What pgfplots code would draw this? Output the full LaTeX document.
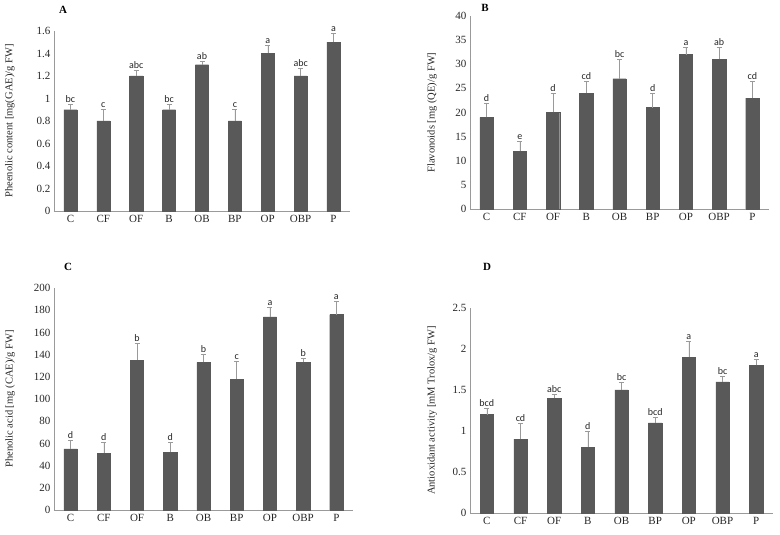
\documentclass[border=0pt]{standalone}
\usepackage{fontspec}
\setmainfont{Liberation Serif}
\newfontfamily\labfont{Carlito}
\usepackage{pgfplots}
\usepackage{pgfplotstable}
\pgfplotsset{compat=1.18}
\definecolor{barc}{HTML}{595959}
\definecolor{errc}{HTML}{9A9A9A}

\pgfplotstableread{
x y e lab
0 0.9 0.05 bc
1 0.8 0.10 c
2 1.2 0.05 abc
3 0.9 0.05 bc
4 1.3 0.03 ab
5 0.8 0.10 c
6 1.4 0.07 a
7 1.2 0.07 abc
8 1.5 0.08 a
}\tabA
\pgfplotstableread{
x y e lab
0 19 3 d
1 12 2 e
2 20 4 d
3 24 2.5 cd
4 27 4 bc
5 21 3 d
6 32 1.5 a
7 31 2.5 ab
8 23 3.5 cd
}\tabB
\pgfplotstableread{
x y e lab
0 55 8 d
1 51 10 d
2 135 15 b
3 52 9 d
4 133 7 b
5 118 16 c
6 174 9 a
7 133 4 b
8 176 12 a
}\tabC
\pgfplotstableread{
x y e lab
0 1.2 0.08 bcd
1 0.9 0.20 cd
2 1.4 0.05 abc
3 0.8 0.20 d
4 1.5 0.10 bc
5 1.1 0.07 bcd
6 1.9 0.20 a
7 1.6 0.07 bc
8 1.8 0.07 a
}\tabD

\pgfplotsset{panel/.style={
  scale only axis, axis lines=left, axis line style={errc, -},
  xmin=-0.5, xmax=8.5, ymin=0, clip=false,
  xtick={0,...,8}, xticklabels={C,CF,OF,B,OB,BP,OP,OBP,P},
  major tick length=0pt,
  /pgf/number format/assume math mode=true,
  tick label style={font=\fontsize{11}{13}\selectfont, text=black!85},
  ylabel style={anchor=center, font=\fontsize{10.5}{12}\selectfont, text=black!85},
  xticklabel style={yshift=-1pt},
}}
\newcommand{\drawpanel}[1]{%
  \addplot[ybar, bar width=0.4, fill=barc, draw=barc,
    error bars/.cd, y dir=plus, y explicit,
    error bar style={errc, line width=0.5pt},
    error mark options={rotate=90, mark size=2.5pt, errc, line width=0.5pt}]
    table[x=x, y=y, y error=e] {#1};
  \addplot[draw=none, mark=none, nodes near coords, point meta=explicit symbolic,
    nodes near coords style={anchor=south, inner sep=1.5pt, font=\labfont\fontsize{10}{11}\selectfont, text=black!85}]
    table[x=x, y expr=\thisrow{y}+\thisrow{e}, meta=lab] {#1};
}

\begin{document}
\begin{tikzpicture}
\path[use as bounding box] (0pt,0pt) rectangle (780pt,535pt);

\begin{axis}[panel, at={(54pt,324pt)}, anchor=south west, width=296pt, height=180pt,
  ymax=1.6, ytick distance=0.2,
  ylabel={Pheenolic content [mg(GAE)/g FW]},
  ylabel style={at={(axis description cs:-0.149,0.5)}}]
\drawpanel{\tabA}
\end{axis}

\begin{axis}[panel, at={(470pt,326pt)}, anchor=south west, width=299pt, height=193pt,
  ymax=40, ytick distance=5,
  ylabel={Flavonoids [mg (QE)/g FW]},
  ylabel style={at={(axis description cs:-0.127,0.5)}}]
\drawpanel{\tabB}
\end{axis}

\begin{axis}[panel, at={(54pt,25pt)}, anchor=south west, width=299pt, height=222pt,
  ymax=200, ytick distance=20,
  ylabel={Phenolic acid [mg (CAE)/g FW]},
  ylabel style={at={(axis description cs:-0.147,0.5)}}]
\drawpanel{\tabC}
\end{axis}

\begin{axis}[panel, at={(470pt,22pt)}, anchor=south west, width=303pt, height=205pt,
  ymax=2.5, ytick distance=0.5,
  ylabel={Antioxidant activity [mM Trolox/g FW]},
  ylabel style={at={(axis description cs:-0.125,0.5)}}]
\drawpanel{\tabD}
\end{axis}

\node[font=\bfseries\fontsize{11}{13}\selectfont] at (63pt,525pt) {A};
\node[font=\bfseries\fontsize{11}{13}\selectfont] at (485pt,527pt) {B};
\node[font=\bfseries\fontsize{11}{13}\selectfont] at (68pt,268pt) {C};
\node[font=\bfseries\fontsize{11}{13}\selectfont] at (487pt,268pt) {D};
\end{tikzpicture}
\end{document}
